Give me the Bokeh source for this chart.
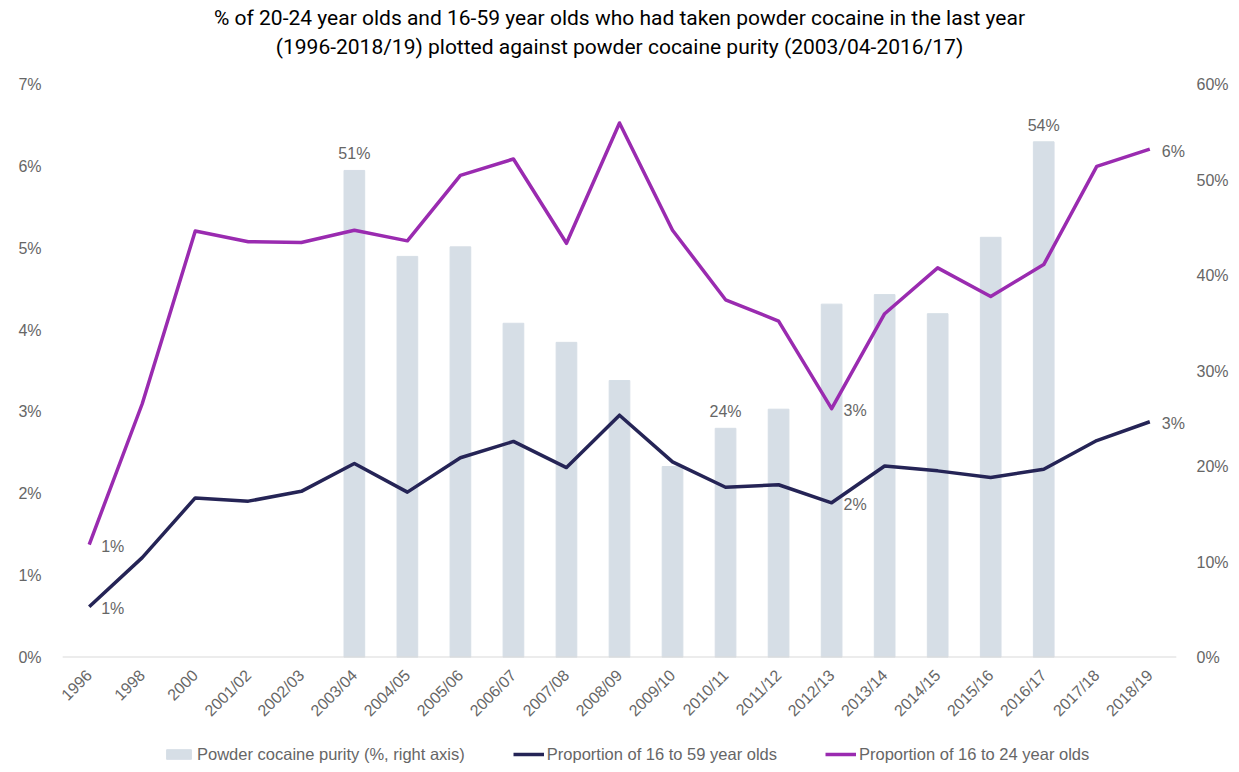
import math
from bokeh.plotting import figure
from bokeh.layouts import column
from bokeh.models import (FactorRange, Range1d, LinearAxis, Legend, LegendItem, Title,
                          ColumnDataSource, LabelSet, FixedTicker, PrintfTickFormatter)
from bokeh.transform import dodge
from bokeh.core.properties import value
from bokeh.embed import file_html
from bokeh.resources import INLINE

# ---------------- data ----------------
years = ["1996", "1998", "2000", "2001/02", "2002/03", "2003/04", "2004/05",
         "2005/06", "2006/07", "2007/08", "2008/09", "2009/10", "2010/11",
         "2011/12", "2012/13", "2013/14", "2014/15", "2015/16", "2016/17",
         "2017/18", "2018/19"]

purity_years = ["2003/04", "2004/05", "2005/06", "2006/07", "2007/08", "2008/09",
                "2009/10", "2010/11", "2011/12", "2012/13", "2013/14", "2014/15",
                "2015/16", "2016/17"]
purity = [51, 42, 43, 35, 33, 29, 20, 24, 26, 37, 38, 36, 44, 54]

age_16_59 = [0.62, 1.22, 1.95, 1.91, 2.03, 2.37, 2.02, 2.44, 2.64, 2.32, 2.96,
             2.39, 2.08, 2.11, 1.89, 2.34, 2.28, 2.20, 2.30, 2.65, 2.88]
age_16_24 = [1.38, 3.10, 5.21, 5.08, 5.07, 5.22, 5.09, 5.89, 6.09, 5.06, 6.53,
             5.22, 4.37, 4.11, 3.04, 4.20, 4.76, 4.41, 4.80, 6.00, 6.21]

left_ticks = [0, 1, 2, 3, 4, 5, 6, 7]
right_ticks = [0, 10, 20, 30, 40, 50, 60]

bar_label_years = ["2003/04", "2010/11", "2016/17"]
line_label_years = ["1996", "2012/13", "2018/19"]

title_lines = ["% of 20-24 year olds and 16-59 year olds who had taken powder cocaine in the last year",
               "(1996-2018/19) plotted against powder cocaine purity (2003/04-2016/17)"]

legend_labels = ["Powder cocaine purity (%, right axis)",
                 "Proportion of 16 to 59 year olds",
                 "Proportion of 16 to 24 year olds"]

# ---------------- style ----------------
PURPLE = "#9a2bb0"
NAVY = "#252456"
BAR = "#d6dee6"
GREY_TXT = "#666666"
FONT = "Liberation Sans"

p = figure(width=1231, height=728,
           x_range=FactorRange(*years, range_padding=0.23, range_padding_units="absolute"),
           y_range=Range1d(0, 7), output_backend="svg", toolbar_location=None,
           min_border_left=50, min_border_right=34, min_border_top=83,
           min_border_bottom=70)
p.extra_y_ranges = {"right": Range1d(0, 60)}

# title: spacer nearest the frame, then second line, first line (p.title) outermost
p.title.text = title_lines[0]
p.title.align = "center"
p.title.text_font = "Roboto"
p.title.text_font_size = "21px"
p.title.text_font_style = "normal"
p.title.text_color = "#000000"
p.title.standoff = 6
p.add_layout(Title(text="\u00a0", align="center", text_font="Roboto",
                   text_font_size="21px", standoff=0), "above")
p.add_layout(Title(text=title_lines[1], align="center", text_font="Roboto",
                   text_font_size="21px", text_font_style="normal", text_color="#000000",
                   standoff=0), "above")

p.outline_line_color = None
p.xgrid.grid_line_color = None
p.ygrid.grid_line_color = None

# bars (right axis)
bar_src = ColumnDataSource(dict(x=purity_years, y=purity))
p.vbar(x="x", top="y", width=0.39, source=bar_src, color=BAR, y_range_name="right")

# baseline spanning the category bands
base_src = ColumnDataSource(dict(x0=[years[0]], x1=[years[-1]], y=[0]))
p.segment(x0=dodge("x0", -0.5, range=p.x_range), x1=dodge("x1", 0.5, range=p.x_range),
          y0="y", y1="y", source=base_src, line_color="#d9d9d9", line_width=2)

p.line(years, age_16_59, color=NAVY, line_width=3.5, line_join="round")
p.line(years, age_16_24, color=PURPLE, line_width=3.5, line_join="round")

# axes
p.yaxis.ticker = FixedTicker(ticks=left_ticks)
p.yaxis.formatter = PrintfTickFormatter(format="%d%%")
p.yaxis.axis_line_color = None
p.yaxis.major_tick_line_color = None
p.yaxis.minor_tick_line_color = None
p.yaxis.major_label_text_font = FONT
p.yaxis.major_label_text_font_size = "16px"
p.yaxis.major_label_text_color = GREY_TXT
p.yaxis.major_label_standoff = 3

ry = LinearAxis(y_range_name="right", ticker=FixedTicker(ticks=right_ticks),
                formatter=PrintfTickFormatter(format="%d%%"))
ry.axis_line_color = None
ry.major_tick_line_color = None
ry.minor_tick_line_color = None
ry.major_label_text_font = FONT
ry.major_label_text_font_size = "16px"
ry.major_label_text_color = GREY_TXT
ry.major_label_standoff = 2
p.add_layout(ry, "right")

p.xaxis.axis_line_color = None
p.xaxis.major_tick_line_color = None
p.xaxis.minor_tick_line_color = None
p.xaxis.major_label_orientation = math.pi / 4
p.xaxis.major_label_text_font = FONT
p.xaxis.major_label_text_font_size = "16px"
p.xaxis.major_label_text_color = GREY_TXT
p.xaxis.major_label_standoff = 9

# data labels
bl = [purity_years.index(y) for y in bar_label_years]
bar_lab_src = ColumnDataSource(dict(x=bar_label_years, y=[purity[i] for i in bl],
                                    t=[f"{purity[i]}%" for i in bl]))
p.add_layout(LabelSet(x="x", y="y", text="t", source=bar_lab_src, y_range_name="right",
                      text_align="center", text_baseline="bottom", y_offset=8,
                      text_font=value(FONT), text_font_size=value("16px"),
                      text_color=GREY_TXT))

li = [years.index(y) for y in line_label_years]
line_lab_src = ColumnDataSource(dict(
    x=line_label_years + line_label_years,
    y=[age_16_24[i] for i in li] + [age_16_59[i] for i in li],
    t=[f"{round(age_16_24[i])}%" for i in li] + [f"{round(age_16_59[i])}%" for i in li]))
p.add_layout(LabelSet(x="x", y="y", text="t", source=line_lab_src,
                      text_align="left", text_baseline="middle", x_offset=12, y_offset=-2,
                      text_font=value(FONT), text_font_size=value("16px"),
                      text_color=GREY_TXT))

# ---------------- legend strip (same series, drawn outside its visible range) ----------------
lg = figure(width=1231, height=44, output_backend="svg", toolbar_location=None,
            x_axis_type=None, y_axis_type=None, min_border=0,
            x_range=FactorRange(*years), y_range=Range1d(100, 101))
lg.outline_line_color = None
lg.xgrid.grid_line_color = None
lg.ygrid.grid_line_color = None
r_bar = lg.vbar(x=purity_years, top=purity, width=0.39, color=BAR)
r_59 = lg.line(years, age_16_59, color=NAVY, line_width=3.5)
r_24 = lg.line(years, age_16_24, color=PURPLE, line_width=3.5)

legend = Legend(items=[LegendItem(label=legend_labels[0], renderers=[r_bar]),
                       LegendItem(label=legend_labels[1], renderers=[r_59]),
                       LegendItem(label=legend_labels[2], renderers=[r_24])],
                orientation="horizontal", location=(113, 8),
                label_text_font=FONT, label_text_font_size="16.5px", label_text_color=GREY_TXT,
                glyph_width=31, glyph_height=12, label_height=20, label_standoff=3, spacing=48,
                border_line_color=None, background_fill_alpha=0, margin=0, padding=0)
lg.add_layout(legend, "center")

layout = column(p, lg, spacing=0)
open("out.html", "w").write(file_html(layout, INLINE))
